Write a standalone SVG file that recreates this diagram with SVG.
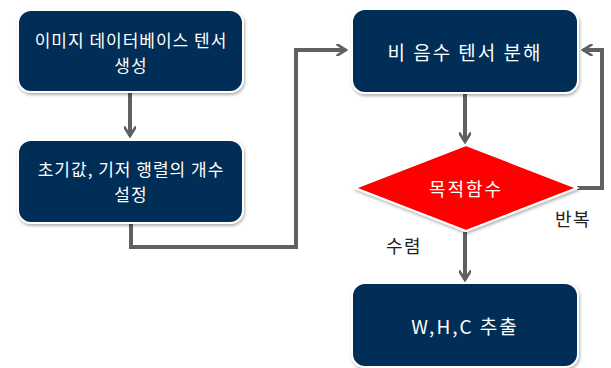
<svg xmlns="http://www.w3.org/2000/svg" width="611" height="368" viewBox="0 0 611 368">
<style>
.box{fill:#002f56;stroke:#ffffff;stroke-width:2;filter:url(#sh)}
.dia{fill:#ff0000;stroke:#ffffff;stroke-width:2;filter:url(#sh)}
.t{font-family:"Noto Sans CJK KR","Noto Sans",sans-serif;font-size:17px;letter-spacing:1px;fill:#ffffff;text-anchor:middle}
.big{font-size:19px;letter-spacing:2px}
.mid{font-size:18px;letter-spacing:2px}
.lbl{font-family:"Noto Sans CJK KR","Noto Sans",sans-serif;font-size:18px;letter-spacing:1.5px;fill:#222222;text-anchor:middle}
.c{fill:none;stroke:#606060;stroke-width:4;stroke-linejoin:miter}
</style>
<defs>
<filter id="sh" x="-10%" y="-10%" width="125%" height="130%">
<feDropShadow dx="1" dy="2" stdDeviation="1.5" flood-color="#000000" flood-opacity="0.3"/>
</filter>
<marker id="ah" viewBox="0 0 12 12" refX="10" refY="6" markerWidth="3.2" markerHeight="3.2" orient="auto" markerUnits="strokeWidth">
<path d="M2,1 L10,6 L2,11" fill="none" stroke="#606060" stroke-width="2.5" stroke-linecap="round"/>
</marker>
</defs>
<rect width="611" height="368" fill="#ffffff"/>
<g id="connectors">
<path class="c" d="M130,93 V136" marker-end="url(#ah)"/>
<path class="c" d="M131,224 V247 H296 V50 H346" marker-end="url(#ah)"/>
<path class="c" d="M465,94 V142" marker-end="url(#ah)"/>
<path class="c" d="M577,188 H602 V50 H583" marker-end="url(#ah)"/>
<path class="c" d="M465,232 V280" marker-end="url(#ah)"/>
</g>
<g id="n1">
<rect class="box" x="18" y="10" width="225" height="82" rx="13"/>
<text class="t" x="131" y="47">이미지 데이터베이스 텐서</text>
<text class="t" x="131" y="72">생성</text>
</g>
<g id="n2">
<rect class="box" x="18" y="140" width="225" height="83" rx="13"/>
<text class="t" x="131" y="176">초기값, 기저 행렬의 개수</text>
<text class="t" x="131" y="201">설정</text>
</g>
<g id="n3">
<rect class="box" x="352" y="9" width="226" height="84" rx="13"/>
<text class="t big" x="465" y="60">비 음수 텐서 분해</text>
</g>
<g id="n4">
<polygon class="dia" points="466,145 577,188 466,231 355,188"/>
<text class="t mid" x="466" y="196">목적함수</text>
</g>
<g id="n5">
<rect class="box" x="352" y="283" width="226" height="84" rx="13"/>
<text class="t big" x="465" y="334">W,H,C 추출</text>
</g>
<g id="labels">
<text class="lbl" x="573" y="226">반복</text>
<text class="lbl" x="404" y="253">수렴</text>
</g>
</svg>
